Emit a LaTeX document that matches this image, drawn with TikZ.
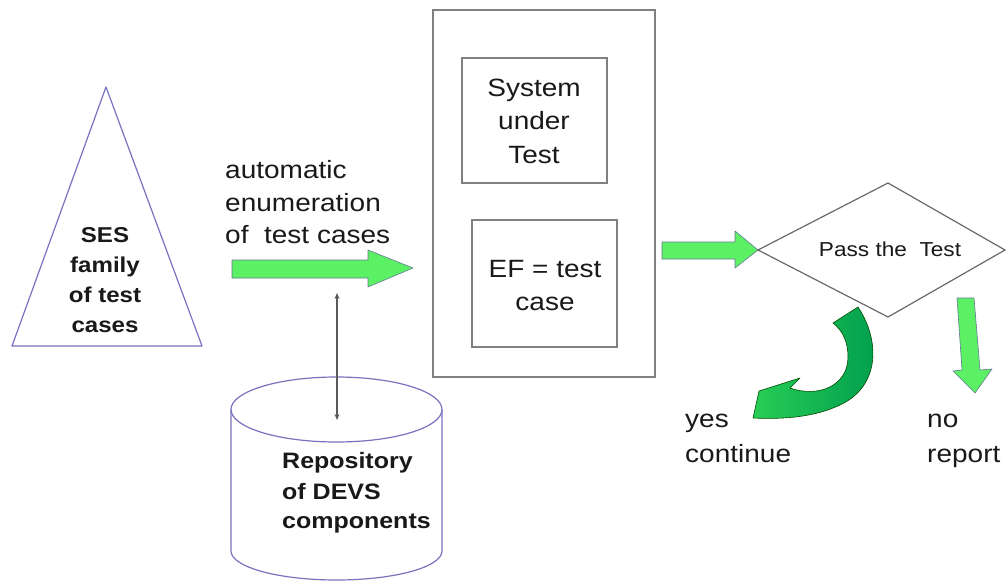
\documentclass[tikz,border=0pt]{standalone}
\usepackage{fontspec}
\setmainfont{Liberation Sans}
\usetikzlibrary{arrows.meta}
\definecolor{tri}{RGB}{120,115,190}
\definecolor{boxgray}{RGB}{128,128,128}
\definecolor{dgray}{RGB}{105,105,105}
\definecolor{lgreen}{RGB}{92,240,100}
\definecolor{arrline}{RGB}{100,120,150}
\definecolor{cdark}{RGB}{0,158,78}
\definecolor{clight}{RGB}{40,205,85}
\definecolor{txt}{RGB}{25,25,25}
\begin{document}
\begin{tikzpicture}[x=1pt,y=-1pt,
  lbl/.style={inner sep=0pt, text=txt, xscale=1.12, anchor=base},
  lbll/.style={lbl, anchor=base west},
  fbold/.style={font=\fontsize{21.5}{26}\bfseries\selectfont},
  frepo/.style={font=\fontsize{22.3}{26}\bfseries\selectfont},
  fmain/.style={font=\fontsize{25}{30}\selectfont},
  fsmall/.style={font=\fontsize{20.2}{24}\selectfont},
  outline/.style={draw=tri, line width=1.2pt},
  boxline/.style={draw=boxgray, line width=1.8pt},
  greenarrow/.style={fill=lgreen, draw=arrline, line width=0.6pt, line join=round},
  linkarrow/.style={draw=black!65, line width=1.4pt, {Stealth[length=6pt,width=5pt]}-{Stealth[length=6pt,width=5pt]}}
]
\useasboundingbox (0,0) rectangle (1006,583);
\fill[white] (0,0) rectangle (1006,583);

% triangle: SES family of test cases
\coordinate (triA) at (106,87);
\coordinate (triL) at (12,346);
\coordinate (triR) at (202,346);
\draw[outline, line join=round] (triA) -- (triR) -- (triL) -- cycle;
\node[lbl, fbold] (ses1) at (105,242) {SES};
\node[lbl, fbold] (ses2) at (105,272) {family};
\node[lbl, fbold] (ses3) at (105,302) {of test};
\node[lbl, fbold] (ses4) at (105,332) {cases};

% enumeration label and arrow
\node[lbll, fmain] (enum1) at (225,178) {automatic};
\node[lbll, fmain] (enum2) at (225,211) {enumeration};
\node[lbll, fmain] (enum3) at (225,243) {of\ \ test cases};
\draw[greenarrow] (232,260) -- (368,260) -- (368,250) -- (413,268) -- (368,287) -- (368,278) -- (232,278) -- cycle;
\coordinate (enumarrow) at (337,293);

% repository cylinder
\coordinate (cyltop) at (337,420);
\draw[outline] (336.5,409.5) ellipse[x radius=105.5, y radius=32.5];
\draw[outline] (231,409.5) -- (231,551) arc[start angle=180, end angle=0, x radius=105.5, y radius=29] -- (442,409.5);
\node[lbll, frepo] (repo1) at (282,468) {Repository};
\node[lbll, frepo] (repo2) at (282,499) {of DEVS};
\node[lbll, frepo] (repo3) at (282,528) {components};
\draw[linkarrow] (enumarrow) -- (cyltop);

% big box with system under test and EF
\draw[boxline] (433,10) rectangle (655,377);
\draw[boxline] (462,58) rectangle (607,183);
\draw[boxline] (472,220) rectangle (617,347);
\node[lbl, fmain] (sut1) at (534,97) {System};
\node[lbl, fmain] (sut2) at (534,130) {under};
\node[lbl, fmain] (sut3) at (534,163) {Test};
\node[lbl, fmain] (ef1) at (545,277) {EF = test};
\node[lbl, fmain] (ef2) at (545,310) {case};

% arrow to decision
\draw[greenarrow] (662,242) -- (735,242) -- (735,231) -- (758,250) -- (735,268) -- (735,259) -- (662,259) -- cycle;

% decision diamond
\coordinate (dl) at (758,250);
\coordinate (dt) at (888,183);
\coordinate (dr) at (1005,250);
\coordinate (db) at (888,317);
\draw[draw=dgray, line width=1.2pt, line join=miter] (dl) -- (dt) -- (dr) -- (db) -- cycle;
\node[lbl, fsmall, anchor=center] (pass) at (890,249) {Pass the\ \ Test};

% curved yes arrow
\shade[left color=clight, right color=cdark, draw=black!70!green, line width=0.6pt, line join=round]
  (833,323) -- (858,307) .. controls (880,340) and (880,385) .. (842,404)
  .. controls (822,414) and (795,420) .. (753,418) -- (759,391) -- (800,378) -- (790,388)
  .. controls (818,398) and (848,386) .. (848,357)
  .. controls (848,342) and (843,331) .. (833,323) -- cycle;

% down no arrow
\draw[greenarrow] (957,298) -- (974,298) -- (980,370) -- (992,369) -- (975,393) -- (953,371) -- (962,370) -- cycle;

\node[lbll, fmain] (yes1) at (685,427) {yes};
\node[lbll, fmain] (yes2) at (685,462) {continue};
\node[lbll, fmain] (no1) at (927,427) {no};
\node[lbll, fmain] (no2) at (927,462) {report};
\end{tikzpicture}
\end{document}
